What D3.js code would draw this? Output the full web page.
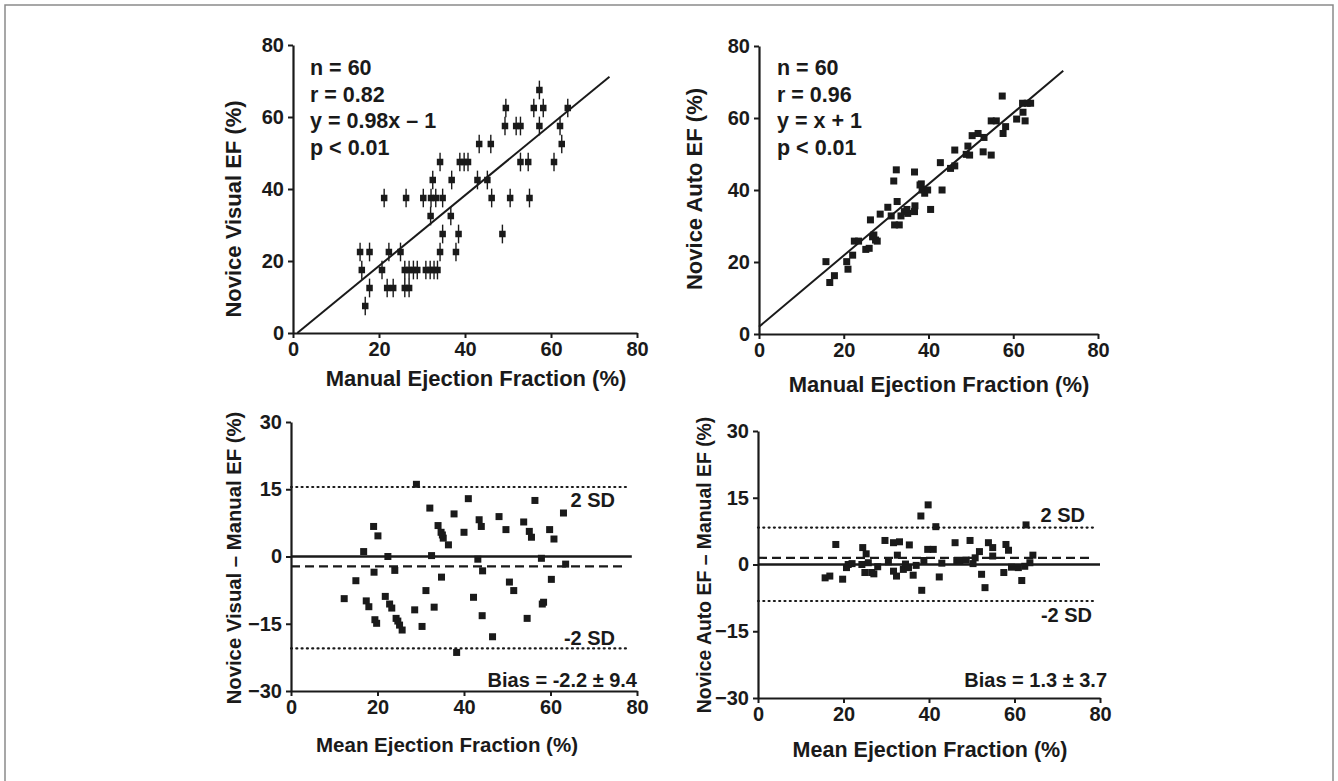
<!DOCTYPE html>
<html>
<head>
<meta charset="utf-8">
<script src="https://cdn.jsdelivr.net/npm/d3@7"></script>
<style>
html,body{margin:0;padding:0;background:#fff;}
svg{display:block;}
text{font-family:"Liberation Sans",Arial,Helvetica,sans-serif;font-weight:bold;fill:#1a1a1a;}
</style>
</head>
<body>
<svg id="chart" width="1338" height="781"></svg>
<script>
// ---------------- DATA ----------------
const scatterTicks = [0, 20, 40, 60, 80];
const diffTicks = [-30, -15, 0, 15, 30];

// Panel A: Manual EF vs Novice Visual EF (visual EF read in 5% bins)
const visualManual = [57.3, 49.5, 56.0, 58.2, 63.9, 49.3, 51.9, 52.9, 57.3, 62.1,
  43.3, 46.0, 62.5, 34.2, 38.8, 39.8, 40.7, 52.9, 54.7, 60.7,
  32.5, 36.9, 42.9, 45.2, 21.2, 26.3, 30.3, 32.1, 33.2, 34.8,
  46.2, 50.5, 55.0, 32.0, 36.7, 34.8, 38.5, 48.7, 15.6, 17.8,
  22.3, 25.0, 34.2, 37.9, 16.0, 20.7, 26.0, 27.0, 28.0, 28.9,
  30.9, 31.9, 32.8, 33.6, 17.8, 21.9, 23.3, 26.0, 27.0, 16.8];
const visualEF = [67.5, 62.5, 62.5, 62.5, 62.5, 57.5, 57.5, 57.5, 57.5, 57.5,
  52.5, 52.5, 52.5, 47.5, 47.5, 47.5, 47.5, 47.5, 47.5, 47.5,
  42.5, 42.5, 42.5, 42.5, 37.5, 37.5, 37.5, 37.5, 37.5, 37.5,
  37.5, 37.5, 37.5, 32.5, 32.5, 27.5, 27.5, 27.5, 22.5, 22.5,
  22.5, 22.5, 22.5, 22.5, 17.5, 17.5, 17.5, 17.5, 17.5, 17.5,
  17.5, 17.5, 17.5, 17.5, 12.5, 12.5, 12.5, 12.5, 12.5, 7.5];
const visualBinHalf = 2.6;
const visualFit = [[1.0, 0], [73.6, 71.2]];
const visualStats = ["n = 60", "r = 0.82", "y = 0.98x \u2013 1", "p < 0.01"];

// Panel B: Manual EF vs Novice Auto EF
const autoManual = [15.8, 16.7, 17.8, 20.7, 21.0, 22.1, 22.5, 23.5, 25.2, 26.0,
  26.3, 26.8, 27.5, 27.9, 28.6, 30.4, 31.2, 31.8, 32.4, 32.0,
  33.1, 32.6, 33.5, 34.3, 35.1, 36.7, 36.7, 36.8, 38.3, 38.5,
  39.1, 39.8, 40.5, 42.8, 43.2, 45.2, 46.2, 46.2, 48.9, 49.3,
  49.7, 50.3, 51.7, 53.1, 52.9, 54.8, 54.8, 56.0, 57.4, 57.6,
  58.2, 60.8, 62.2, 62.3, 62.8, 64.1, 63.3, 27.1, 38.0, 34.9];
const autoEF = [20.1, 14.3, 16.2, 20.1, 18.0, 21.9, 25.8, 25.8, 23.5, 23.8,
  31.7, 27.0, 26.1, 25.8, 33.3, 35.2, 32.8, 42.5, 45.6, 30.3,
  30.3, 36.8, 32.8, 34.0, 33.5, 45.0, 34.0, 35.6, 41.7, 40.0,
  39.1, 40.0, 34.6, 47.6, 40.0, 46.0, 51.1, 46.7, 49.9, 52.2,
  49.7, 55.1, 55.7, 54.6, 50.6, 49.7, 59.2, 59.2, 66.1, 55.7,
  57.6, 59.7, 64.1, 61.6, 59.2, 64.1, 64.1, 27.5, 41.4, 34.6];
const autoFit = [[0, 2.0], [71.8, 73.1]];
const autoStats = ["n = 60", "r = 0.96", "y = x + 1", "p < 0.01"];

// Panel C: Bland-Altman, visual - manual
const visualMean = [12.3, 15.0, 16.8, 17.4, 18.0, 19.1, 19.2, 19.4, 19.8, 20.1,
  21.8, 22.4, 22.8, 23.3, 24.0, 24.3, 25.1, 25.7, 28.6, 29.0,
  30.3, 31.2, 32.1, 32.5, 33.1, 34.0, 34.7, 35.2, 34.8, 36.4,
  37.7, 38.3, 40.0, 41.0, 42.2, 43.2, 43.5, 44.0, 44.2, 44.3,
  46.6, 48.1, 49.7, 50.5, 51.5, 53.8, 54.6, 55.1, 55.6, 56.4,
  57.9, 58.1, 59.8, 60.2, 60.8, 63.0, 63.5, 58.4, 24.7, 35.0];
const visualDiff = [-9.4, -5.4, 1.1, -9.9, -11.2, 6.7, -3.5, -14.1, -14.9, 4.6,
  -8.9, 0.0, -10.6, -11.5, -3.1, -13.8, -15.3, -16.4, -11.9, 16.1,
  -15.6, -7.6, 10.8, 0.2, -11.3, 6.9, 5.4, 4.1, -4.6, 2.6,
  9.5, -21.4, 5.4, 12.9, -9.1, -0.6, 8.2, 6.7, -13.2, -3.2,
  -17.9, 8.9, 6.0, -5.7, -7.6, 7.7, -13.8, 5.6, 4.3, 12.5,
  -0.4, -10.6, 6.0, -5.1, 3.9, 9.7, -1.7, -10.2, -14.4, 4.8];
const visualLimits = [15.5, -20.5];
const visualBias = -2.2;
const visualLimitLabels = ["2 SD", "-2 SD"];
const visualBiasText = "Bias = -2.2 \u00b1 9.4";

// Panel D: Bland-Altman, auto - manual
const autoMean = [15.7, 16.8, 18.2, 19.8, 20.7, 21.1, 22.0, 24.3, 24.5, 25.3,
  25.0, 25.8, 26.6, 27.1, 29.7, 30.5, 31.7, 31.7, 32.4, 32.6,
  33.1, 34.0, 34.5, 35.2, 35.4, 36.3, 37.0, 38.1, 38.3, 38.8,
  39.7, 39.8, 41.0, 41.6, 42.4, 46.1, 46.5, 47.2, 49.6, 50.3,
  50.8, 51.8, 52.3, 53.1, 53.9, 54.9, 54.9, 57.5, 58.0, 58.6,
  59.3, 60.9, 61.7, 62.7, 62.4, 63.6, 64.3, 48.7, 43.0, 28.0];
const autoDiff = [-3.0, -2.6, 4.5, -3.3, -0.7, 0.0, 0.2, 0.0, 3.8, 2.4,
  -1.8, 0.4, -1.8, -2.1, 5.4, 0.6, 4.9, -1.5, -2.6, 2.1,
  5.1, -1.1, 0.1, -0.7, 4.4, -2.4, -0.2, 10.9, -5.8, 0.9,
  3.4, 13.4, 3.4, 8.5, -2.8, 4.9, 0.9, 0.9, 5.4, 0.2,
  1.5, 2.9, -2.2, -5.2, 4.9, 3.8, 1.9, -1.8, 4.5, 3.2,
  -0.6, -0.7, -3.6, 8.9, -0.4, 0.4, 2.1, 1.0, 0.3, -0.5];
const autoLimits = [8.3, -8.2];
const autoBias = 1.5;
const autoLimitLabels = ["2 SD", "-2 SD"];
const autoBiasText = "Bias = 1.3 \u00b1 3.7";

const xTitleScatter = "Manual Ejection Fraction (%)";
const xTitleDiff = "Mean Ejection Fraction (%)";
const yTitles = ["Novice Visual EF (%)", "Novice Auto EF (%)",
  "Novice Visual \u2013 Manual EF (%)", "Novice Auto EF \u2013 Manual EF (%)"];

// ---------------- DRAWING ----------------
const svg = d3.select("#chart");
const INK = "#1a1a1a";

// page frame
svg.append("path").attr("d", "M5,790 L5,5 L1333,5 L1333,790")
  .attr("fill", "none").attr("stroke", "#8a8a8a").attr("stroke-width", 1.5);

function makePanel(cfg) {
  const g = svg.append("g");
  const x = d3.scaleLinear().domain([0, 80]).range([cfg.x0, cfg.x1]);
  const y = d3.scaleLinear().domain(cfg.yDomain).range([cfg.yB, cfg.yT]);
  const xAxis = g.append("g").attr("transform", `translate(0,${cfg.yB})`)
    .call(d3.axisBottom(x).tickValues(scatterTicks).tickSize(5).tickSizeOuter(0).tickPadding(4));
  const yAxis = g.append("g").attr("transform", `translate(${cfg.x0},0)`)
    .call(d3.axisLeft(y).tickValues(cfg.yTicks).tickSize(5).tickSizeOuter(0).tickPadding(4));
  [xAxis, yAxis].forEach(a => {
    a.select(".domain").attr("stroke", INK).attr("stroke-width", 2.2);
    a.selectAll(".tick line").attr("stroke", INK).attr("stroke-width", 2);
    a.selectAll(".tick text").style("font-size", "20px").attr("fill", INK);
  });
  // x title
  g.append("text").attr("x", cfg.xTitleX).attr("y", cfg.xTitleY)
    .attr("text-anchor", "middle").style("font-size", cfg.xTitleSize + "px").text(cfg.xTitle);
  // y title
  g.append("text").attr("transform", `translate(${cfg.yTitleX},${cfg.yTitleY}) rotate(-90)`)
    .attr("text-anchor", "middle").style("font-size", cfg.yTitleSize + "px").text(cfg.yTitle);
  return {g, x, y};
}

function squares(p, xs, ys, size) {
  p.g.append("g").selectAll("rect").data(xs.map((v, i) => [v, ys[i]])).join("rect")
    .attr("x", d => p.x(d[0]) - size / 2).attr("y", d => p.y(d[1]) - size / 2)
    .attr("width", size).attr("height", size).attr("fill", INK);
}

function stats(p, lines, x0, y0) {
  p.g.append("g").selectAll("text").data(lines).join("text")
    .attr("x", x0).attr("y", (d, i) => y0 + i * 26.7)
    .style("font-size", "21.5px").text(d => d);
}

function fitLine(p, pts) {
  p.g.append("line")
    .attr("x1", p.x(pts[0][0])).attr("y1", p.y(pts[0][1]))
    .attr("x2", p.x(pts[1][0])).attr("y2", p.y(pts[1][1]))
    .attr("stroke", INK).attr("stroke-width", 2);
}

function hline(p, val, xEnd, dash, width) {
  p.g.append("line")
    .attr("x1", p.x(0)).attr("x2", p.x(xEnd))
    .attr("y1", p.y(val)).attr("y2", p.y(val))
    .attr("stroke", INK).attr("stroke-width", width)
    .attr("stroke-dasharray", dash).attr("stroke-linecap", dash === "1,4.3" ? "round" : "butt");
}

function label(p, txt, x, y) {
  p.g.append("text").attr("x", x).attr("y", y).attr("text-anchor", "end")
    .style("font-size", "20px").text(txt);
}

// Panel A
const pA = makePanel({x0: 293, x1: 637, yB: 333, yT: 45, yDomain: [0, 80], yTicks: scatterTicks,
  xTitle: xTitleScatter, xTitleX: 476, xTitleY: 386, xTitleSize: 22,
  yTitle: yTitles[0], yTitleX: 241, yTitleY: 209, yTitleSize: 22});
fitLine(pA, visualFit);
pA.g.append("g").selectAll("line").data(visualManual.map((v, i) => [v, visualEF[i]])).join("line")
  .attr("x1", d => pA.x(d[0])).attr("x2", d => pA.x(d[0]))
  .attr("y1", d => pA.y(d[1] - visualBinHalf)).attr("y2", d => pA.y(d[1] + visualBinHalf))
  .attr("stroke", INK).attr("stroke-width", 1.4);
squares(pA, visualManual, visualEF, 6.5);
stats(pA, visualStats, 310, 75);

// Panel B
const pB = makePanel({x0: 759, x1: 1098, yB: 334, yT: 46, yDomain: [0, 80], yTicks: scatterTicks,
  xTitle: xTitleScatter, xTitleX: 939, xTitleY: 392, xTitleSize: 22,
  yTitle: yTitles[1], yTitleX: 702, yTitleY: 189, yTitleSize: 22});
fitLine(pB, autoFit);
squares(pB, autoManual, autoEF, 7);
stats(pB, autoStats, 777, 75);

// Panel C
const pC = makePanel({x0: 291, x1: 637, yB: 691, yT: 422, yDomain: [-30, 30], yTicks: diffTicks,
  xTitle: xTitleDiff, xTitleX: 447, xTitleY: 752, xTitleSize: 20.5,
  yTitle: yTitles[2], yTitleX: 241, yTitleY: 558, yTitleSize: 20.3});
hline(pC, visualLimits[0], 78.3, "1,4.3", 2.2);
hline(pC, visualLimits[1], 78.3, "1,4.3", 2.2);
hline(pC, visualBias, 77.2, "9,5", 2.2);
hline(pC, 0, 78.8, null, 2.6);
squares(pC, visualMean, visualDiff, 7);
label(pC, visualLimitLabels[0], 615, 507);
label(pC, visualLimitLabels[1], 615, 645);
label(pC, visualBiasText, 637, 687);

// Panel D
const pD = makePanel({x0: 758, x1: 1100, yB: 698, yT: 431, yDomain: [-30, 30], yTicks: diffTicks,
  xTitle: xTitleDiff, xTitleX: 930, xTitleY: 757, xTitleSize: 21.5,
  yTitle: yTitles[3], yTitleX: 711, yTitleY: 565, yTitleSize: 19.4});
hline(pD, autoLimits[0], 79.3, "1,4.3", 2.2);
hline(pD, autoLimits[1], 79.3, "1,4.3", 2.2);
hline(pD, autoBias, 78, "9,5", 2.2);
hline(pD, 0, 80, null, 2.6);
squares(pD, autoMean, autoDiff, 7);
label(pD, autoLimitLabels[0], 1085, 522);
label(pD, autoLimitLabels[1], 1092, 622);
label(pD, autoBiasText, 1107, 687);
</script>
</body>
</html>
